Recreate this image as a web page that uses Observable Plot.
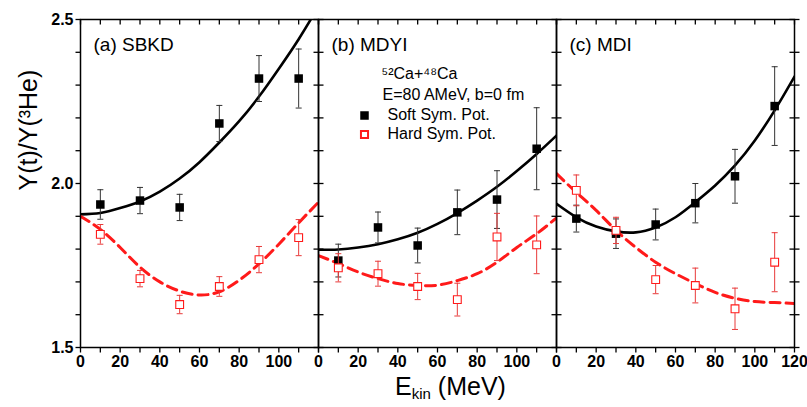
<!DOCTYPE html>
<html>
<head>
<meta charset="utf-8">
<script src="https://cdn.jsdelivr.net/npm/d3@7"></script>
<script src="https://cdn.jsdelivr.net/npm/@observablehq/plot@0.6"></script>
<style>
  html, body { margin: 0; padding: 0; background: #fff; }
  #wrap { position: relative; width: 807px; height: 407px; overflow: hidden; font-family: "Liberation Sans", Arial, sans-serif; }
  #xlabel { position: absolute; left: 395px; top: 374px; font-size: 25px; line-height: 25px; white-space: nowrap; color: #000; }
  #xlabel sub { font-size: 15px; vertical-align: -4px; line-height: 0; }
</style>
</head>
<body>
<div id="wrap"></div>
<script>
// ---- data ----
const panels = ["a", "b", "c"];
const panelLabels = ["(a) SBKD", "(b) MDYI", "(c) MDI"];
const energies = [10, 30, 50, 70, 90, 110];

const softA = [1.936, 1.948, 1.927, 2.183, 2.320, 2.320];
const softAErr = [0.045, 0.040, 0.040, 0.055, 0.070, 0.090];
const hardA = [1.845, 1.710, 1.631, 1.686, 1.768, 1.835];
const hardAErr = [0.030, 0.025, 0.028, 0.030, 0.040, 0.055];

const softB = [1.765, 1.866, 1.811, 1.912, 1.951, 2.106];
const softBErr = [0.050, 0.047, 0.053, 0.068, 0.088, 0.125];
const hardB = [1.743, 1.725, 1.686, 1.646, 1.837, 1.813];
const hardBErr = [0.043, 0.038, 0.040, 0.050, 0.072, 0.088];

const softC = [1.893, 1.847, 1.875, 1.940, 2.022, 2.236];
const softCErr = [0.041, 0.045, 0.047, 0.060, 0.082, 0.120];
const hardC = [1.979, 1.857, 1.707, 1.689, 1.618, 1.760];
const hardCErr = [0.047, 0.040, 0.043, 0.053, 0.063, 0.090];

// fitted curves
const curveX = [0, 10, 20, 30, 40, 50, 60, 70, 80, 90, 100, 110, 120];
const softCurveA = [1.906, 1.910, 1.925, 1.945, 1.975, 2.015, 2.065, 2.125, 2.190, 2.265, 2.350, 2.440, 2.540];
const hardCurveA = [1.900, 1.860, 1.805, 1.745, 1.700, 1.672, 1.660, 1.670, 1.705, 1.755, 1.815, 1.880, 1.943];
const softCurveB = [1.798, 1.799, 1.805, 1.815, 1.830, 1.850, 1.877, 1.910, 1.948, 1.990, 2.038, 2.090, 2.146];
const hardCurveB = [1.780, 1.756, 1.730, 1.710, 1.695, 1.689, 1.690, 1.704, 1.725, 1.760, 1.805, 1.847, 1.895];
const softCurveC = [1.938, 1.897, 1.869, 1.854, 1.851, 1.866, 1.897, 1.943, 1.994, 2.055, 2.131, 2.223, 2.326];
const hardCurveC = [2.030, 1.973, 1.918, 1.857, 1.805, 1.760, 1.725, 1.695, 1.668, 1.650, 1.640, 1.637, 1.634];

const xLabelTicks = [0, 20, 40, 60, 80, 100];
const xMinorTicks = [0, 10, 20, 30, 40, 50, 60, 70, 80, 90, 100, 110, 120];
const yMajorTicks = [1.5, 2.0, 2.5];
const yMinorTicks = [1.5, 1.6, 1.7, 1.8, 1.9, 2.0, 2.1, 2.2, 2.3, 2.4, 2.5];

const legendTitle1 = "\u2075\u00B2Ca+\u2074\u2078Ca";
const legendTitle2 = "E=80 AMeV, b=0 fm";
const legendSoft = "Soft Sym. Pot.";
const legendHard = "Hard Sym. Pot.";
const yTitle = "Y(t)/Y(\u00B3He)";

// ---- tables ----
const pointSets = [
  ["a", "soft", softA, softAErr], ["a", "hard", hardA, hardAErr],
  ["b", "soft", softB, softBErr], ["b", "hard", hardB, hardBErr],
  ["c", "soft", softC, softCErr], ["c", "hard", hardC, hardCErr]
];
const points = pointSets.flatMap(([panel, series, vals, errs]) =>
  energies.map((e, i) => ({panel, series, x: e, y: vals[i], err: errs[i]})));
const softPts = points.filter(d => d.series === "soft");
const hardPts = points.filter(d => d.series === "hard");

const curveSets = [
  ["a", "soft", softCurveA], ["a", "hard", hardCurveA],
  ["b", "soft", softCurveB], ["b", "hard", hardCurveB],
  ["c", "soft", softCurveC], ["c", "hard", hardCurveC]
];
const curves = curveSets.flatMap(([panel, series, vals]) =>
  curveX.map((e, i) => ({panel, series, x: e, y: vals[i]})));
const softCurves = curves.filter(d => d.series === "soft");
const hardCurves = curves.filter(d => d.series === "hard");

const labelRows = panels.map((p, i) => ({panel: p, label: panelLabels[i]}));
const legendRow = [{panel: "b"}];
const xTickRows = panels.flatMap(p => xMinorTicks.map(v => ({panel: p, v})));
const yTickRowsRight = panels.flatMap(p => yMinorTicks.map(v => ({panel: p, v})));
const yTickRowsLeft = yMinorTicks.map(v => ({panel: "a", v}));

const capSymbol = {
  draw(context, size) {
    const w = Math.sqrt(size);
    context.moveTo(-w / 2, 0);
    context.lineTo(w / 2, 0);
  }
};
const seg = (x1, y1, x2, y2) => ({draw(ctx) { ctx.moveTo(x1, y1); ctx.lineTo(x2, y2); }});
const tickDown = seg(0, 0, 0, 5);     // bottom outward / top inward
const tickLeft = seg(-5, 0, 0, 0);    // left outward
const tickCross = seg(-5, 0, 5, 0);   // panel boundary crossing

const RED = "#ff1a1a";
const ERR_RED = "#e83a3a";
const ERR_BLACK = "#333";

const chart = Plot.plot({
  width: 807,
  height: 407,
  marginLeft: 79,
  marginRight: 12,
  marginTop: 19,
  marginBottom: 60,
  style: {fontFamily: "'Liberation Sans', Arial, sans-serif", color: "#000", background: "#fff", overflow: "visible"},
  fx: {domain: panels, padding: 0, axis: null, label: null},
  x: {domain: [0, 120], label: null},
  y: {domain: [1.5, 2.5], label: null},
  marks: [
    // curves
    Plot.line(softCurves, {fx: "panel", x: "x", y: "y", stroke: "#000", strokeWidth: 2.6, curve: "natural", clip: true}),
    Plot.line(hardCurves, {fx: "panel", x: "x", y: "y", stroke: RED, strokeWidth: 3, strokeDasharray: "10,6", curve: "natural", clip: true}),
    // soft error bars + markers
    Plot.ruleX(softPts, {fx: "panel", x: "x", y1: d => d.y - d.err, y2: d => d.y + d.err, stroke: ERR_BLACK, strokeWidth: 1}),
    Plot.dot(softPts, {fx: "panel", x: "x", y: d => d.y - d.err, symbol: capSymbol, r: 3.4, stroke: ERR_BLACK, strokeWidth: 1}),
    Plot.dot(softPts, {fx: "panel", x: "x", y: d => d.y + d.err, symbol: capSymbol, r: 3.4, stroke: ERR_BLACK, strokeWidth: 1}),
    Plot.dot(softPts, {fx: "panel", x: "x", y: "y", symbol: "square", r: 4.8, fill: "#000", stroke: "none"}),
    // hard error bars + markers
    Plot.ruleX(hardPts, {fx: "panel", x: "x", y1: d => d.y - d.err, y2: d => d.y + d.err, stroke: ERR_RED, strokeWidth: 1}),
    Plot.dot(hardPts, {fx: "panel", x: "x", y: d => d.y - d.err, symbol: capSymbol, r: 3.4, stroke: ERR_RED, strokeWidth: 1}),
    Plot.dot(hardPts, {fx: "panel", x: "x", y: d => d.y + d.err, symbol: capSymbol, r: 3.4, stroke: ERR_RED, strokeWidth: 1}),
    Plot.dot(hardPts, {fx: "panel", x: "x", y: "y", symbol: "square", r: 4.4, fill: "#fff", stroke: RED, strokeWidth: 1.1}),
    // frames
    Plot.frame({stroke: "#000", strokeWidth: 1.5}),
    // tick marks
    Plot.dot(xTickRows, {fx: "panel", x: "v", frameAnchor: "bottom", symbol: tickDown, stroke: "#000", strokeWidth: 1.3}),
    Plot.dot(xTickRows, {fx: "panel", x: "v", frameAnchor: "top", symbol: tickDown, stroke: "#000", strokeWidth: 1.3}),
    Plot.dot(yTickRowsLeft, {fx: "panel", y: "v", frameAnchor: "left", symbol: tickLeft, stroke: "#000", strokeWidth: 1.3}),
    Plot.dot(yTickRowsRight, {fx: "panel", y: "v", frameAnchor: "right", symbol: tickCross, stroke: "#000", strokeWidth: 1.3}),
    // tick labels
    Plot.axisX({anchor: "bottom", ticks: xLabelTicks, tickSize: 0, tickPadding: 8, fontSize: 16, fontWeight: "bold"}),
    Plot.text([{panel: "c", x: 120}], {fx: "panel", x: "x", text: () => "120", frameAnchor: "bottom", lineAnchor: "top", dy: 8, fontSize: 16, fontWeight: "bold"}),
    Plot.axisY({anchor: "left", ticks: yMajorTicks, tickSize: 0, tickPadding: 7, tickFormat: d3.format(".1f"), fontSize: 16, fontWeight: "bold"}),
    // y title
    Plot.text([{panel: "a"}], {fx: "panel", text: () => yTitle, frameAnchor: "left", rotate: -90, dx: -44, dy: 7, lineAnchor: "bottom", fontSize: 25}),
    // panel labels
    Plot.text(labelRows, {fx: "panel", text: "label", frameAnchor: "top-left", textAnchor: "start", lineAnchor: "bottom", dx: 13, dy: 31, fontSize: 19}),
    // legend (panel b)
    Plot.text(legendRow, {fx: "panel", text: () => legendTitle1, frameAnchor: "top-left", textAnchor: "start", lineAnchor: "bottom", dx: 63, dy: 59, fontSize: 16}),
    Plot.text(legendRow, {fx: "panel", text: () => legendTitle2, frameAnchor: "top-left", textAnchor: "start", lineAnchor: "bottom", dx: 64, dy: 80, fontSize: 16}),
    Plot.dot(legendRow, {fx: "panel", frameAnchor: "top-left", dx: 46, dy: 96, symbol: "square", r: 4.8, fill: "#000", stroke: "none"}),
    Plot.text(legendRow, {fx: "panel", text: () => legendSoft, frameAnchor: "top-left", textAnchor: "start", lineAnchor: "bottom", dx: 69, dy: 100, fontSize: 16}),
    Plot.dot(legendRow, {fx: "panel", frameAnchor: "top-left", dx: 46, dy: 115, symbol: "square", r: 4.0, fill: "#fff", stroke: RED, strokeWidth: 2}),
    Plot.text(legendRow, {fx: "panel", text: () => legendHard, frameAnchor: "top-left", textAnchor: "start", lineAnchor: "bottom", dx: 69, dy: 119, fontSize: 16})
  ]
});

const wrap = document.getElementById("wrap");
wrap.appendChild(chart);
const xl = document.createElement("div");
xl.id = "xlabel";
xl.innerHTML = "E<sub>kin</sub> (MeV)";
wrap.appendChild(xl);
</script>
</body>
</html>
